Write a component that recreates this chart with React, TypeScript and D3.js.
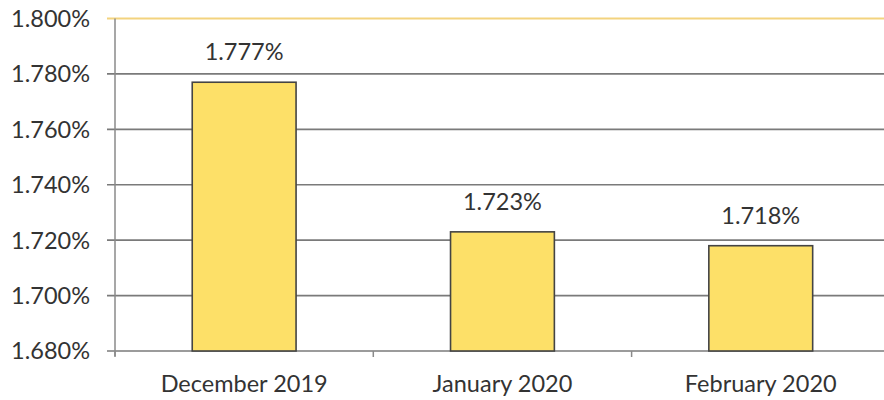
import React from "react";
import * as d3 from "d3";

const categories = ["December 2019", "January 2020", "February 2020"];
const values = [1.777, 1.723, 1.718];
const yTicks = [1.68, 1.7, 1.72, 1.74, 1.76, 1.78, 1.8];

const W = 884, H = 400;
const axisX = 115;
const yTop = 18.5, yBottom = 351;

export default function App() {
  const x = d3.scaleBand<string>().domain(categories).range([axisX, axisX + 3 * 258.3]).padding(0);
  const y = d3.scaleLinear().domain([1.68, 1.8]).range([yBottom, yTop]);
  const bw = x.bandwidth() * 0.402;
  const font = "Lato, 'Open Sans', sans-serif";
  const fs = 23.5;
  return (
    <svg width={W} height={H} style={{ position: "absolute", left: 0, top: 0, background: "#fff" }}>
      {yTicks.map((t) => {
        const top = t === 1.8;
        return (
          <g key={t}>
            <line x1={axisX - 8} x2={W} y1={y(t)} y2={y(t)} stroke={top ? "#f3d37e" : "#7a7a7a"} strokeWidth={top ? 2 : 1.6} />
            <text x={90} y={y(t)} dy="0.36em" textAnchor="end" fontFamily={font} fontSize={fs} fill="#333">
              {d3.format(".3f")(t)}%
            </text>
          </g>
        );
      })}
      <line x1={axisX} x2={axisX} y1={yTop} y2={yBottom + 5} stroke="#8a8a8a" strokeWidth={1.5} />
      {categories.map((c, i) => (
        <line key={"t" + i} x1={x(c)!} x2={x(c)!} y1={yBottom} y2={yBottom + 6} stroke="#8a8a8a" strokeWidth={1.5} />
      ))}
      {categories.map((c, i) => {
        const cx = x(c)! + x.bandwidth() / 2;
        return (
          <g key={c}>
            <rect x={cx - bw / 2} y={y(values[i])} width={bw} height={yBottom - y(values[i])} fill="#fde068" stroke="#444" strokeWidth={1.6} />
            <text x={cx} y={y(values[i]) - 22} textAnchor="middle" fontFamily={font} fontSize={fs} fill="#333">
              {d3.format(".3f")(values[i])}%
            </text>
            <text x={cx} y={392} textAnchor="middle" fontFamily={font} fontSize={fs} fill="#333">
              {c}
            </text>
          </g>
        );
      })}
    </svg>
  );
}
